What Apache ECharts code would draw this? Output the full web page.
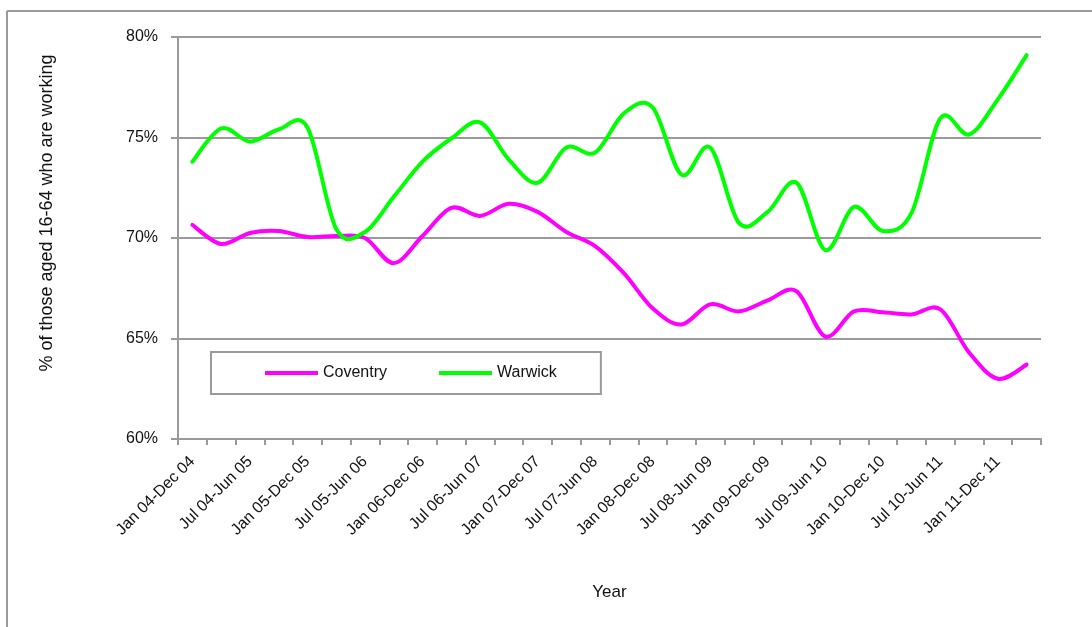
<!DOCTYPE html>
<html>
<head>
<meta charset="utf-8">
<script src="https://cdn.jsdelivr.net/npm/echarts@6/dist/echarts.min.js"></script>
<style>
html,body{margin:0;padding:0;background:#fff;}
#chart{width:1092px;height:627px;}
</style>
</head>
<body>
<div id="chart"></div>
<script>
const categories = [
  'Jan 04-Dec 04','Apr 04-Mar 05','Jul 04-Jun 05','Oct 04-Sep 05',
  'Jan 05-Dec 05','Apr 05-Mar 06','Jul 05-Jun 06','Oct 05-Sep 06',
  'Jan 06-Dec 06','Apr 06-Mar 07','Jul 06-Jun 07','Oct 06-Sep 07',
  'Jan 07-Dec 07','Apr 07-Mar 08','Jul 07-Jun 08','Oct 07-Sep 08',
  'Jan 08-Dec 08','Apr 08-Mar 09','Jul 08-Jun 09','Oct 08-Sep 09',
  'Jan 09-Dec 09','Apr 09-Mar 10','Jul 09-Jun 10','Oct 09-Sep 10',
  'Jan 10-Dec 10','Apr 10-Mar 11','Jul 10-Jun 11','Oct 10-Sep 11',
  'Jan 11-Dec 11','Apr 11-Mar 12'
];
const coventry = [
  70.65, 69.7, 70.25, 70.35, 70.05, 70.1, 70.0, 68.75,
  70.1, 71.5, 71.1, 71.7, 71.3, 70.3, 69.6, 68.25,
  66.5, 65.7, 66.7, 66.35, 66.9, 67.35, 65.1, 66.35,
  66.3, 66.2, 66.45, 64.3, 63.0, 63.7
];
const warwick = [
  73.8, 75.45, 74.8, 75.4, 75.5, 70.45, 70.3, 72.05,
  73.8, 74.95, 75.75, 73.9, 72.75, 74.5, 74.25, 76.2,
  76.5, 73.15, 74.5, 70.75, 71.3, 72.75, 69.4, 71.55,
  70.35, 71.25, 75.95, 75.15, 76.9, 79.1
];
const yTicks = { min: 60, max: 80, interval: 5 };

const font = 'Liberation Sans, Arial, sans-serif';
const gray = '#9a9a9a';

// Smooth curve (Catmull-Rom style) through the points placed by the axes
function smoothRenderer(values, color) {
  return function (params, api) {
    if (params.dataIndex !== 0) return null;
    const pts = values.map((v, i) => api.coord([i, v]));
    const n = pts.length;
    let d = 'M' + pts[0][0] + ' ' + pts[0][1];
    for (let i = 0; i < n - 1; i++) {
      const p0 = pts[Math.max(i - 1, 0)];
      const p1 = pts[i];
      const p2 = pts[i + 1];
      const p3 = pts[Math.min(i + 2, n - 1)];
      const c1x = p1[0] + (p2[0] - p0[0]) / 6;
      const c1y = p1[1] + (p2[1] - p0[1]) / 6;
      const c2x = p2[0] - (p3[0] - p1[0]) / 6;
      const c2y = p2[1] - (p3[1] - p1[1]) / 6;
      d += ' C' + c1x + ' ' + c1y + ' ' + c2x + ' ' + c2y + ' ' + p2[0] + ' ' + p2[1];
    }
    return {
      type: 'path',
      shape: { pathData: d },
      style: { stroke: color, lineWidth: 4, fill: null, lineJoin: 'round', lineCap: 'round' },
      silent: true
    };
  };
}

const chart = echarts.init(document.getElementById('chart'));
chart.setOption({
  animation: false,
  backgroundColor: '#fff',
  textStyle: { fontFamily: font },
  grid: { left: 178, right: 51, top: 37, bottom: 188, containLabel: false },
  legend: {
    left: 211, top: 352, width: 392, height: 43,
    orient: 'horizontal',
    borderColor: gray, borderWidth: 2, borderRadius: 0,
    padding: [13, 44, 13, 54],
    itemGap: 52, itemWidth: 53, itemHeight: 4,
    icon: 'rect',
    textStyle: { fontSize: 16, color: '#111', fontFamily: font },
    data: [
      { name: 'Coventry', itemStyle: { color: '#ff00ff' } },
      { name: 'Warwick', itemStyle: { color: '#00ff00' } }
    ]
  },
  xAxis: {
    type: 'category',
    data: categories,
    boundaryGap: true,
    name: 'Year',
    nameLocation: 'middle',
    nameGap: 145,
    nameTextStyle: { fontSize: 17, color: '#111', fontFamily: font },
    axisLine: { lineStyle: { color: gray, width: 2 } },
    axisTick: { show: true, interval: 0, length: 6, lineStyle: { color: gray, width: 2 } },
    axisLabel: { interval: 1, rotate: 45, fontSize: 16, color: '#111', margin: 20, fontFamily: font },
    splitLine: { show: false }
  },
  yAxis: {
    type: 'value',
    min: yTicks.min, max: yTicks.max, interval: yTicks.interval,
    axisLine: { show: true, lineStyle: { color: gray, width: 2 } },
    axisTick: { show: true, length: 7, lineStyle: { color: gray, width: 2 } },
    axisLabel: { formatter: '{value}%', fontSize: 16, color: '#111', margin: 20, fontFamily: font },
    splitLine: { show: true, lineStyle: { color: gray, width: 2 } }
  },
  series: [
    {
      name: 'Coventry', type: 'custom', coordinateSystem: 'cartesian2d', clip: false,
      data: coventry.map((v, i) => [i, v]), encode: { x: 0, y: 1 },
      itemStyle: { color: '#ff00ff' },
      renderItem: smoothRenderer(coventry, '#ff00ff')
    },
    {
      name: 'Warwick', type: 'custom', coordinateSystem: 'cartesian2d', clip: false,
      data: warwick.map((v, i) => [i, v]), encode: { x: 0, y: 1 },
      itemStyle: { color: '#00ff00' },
      renderItem: smoothRenderer(warwick, '#00ff00')
    }
  ],
  graphic: [
    { type: 'line', shape: { x1: 7, y1: 11, x2: 1092, y2: 11 }, style: { stroke: gray, lineWidth: 2 }, silent: true },
    { type: 'line', shape: { x1: 7, y1: 11, x2: 7, y2: 627 }, style: { stroke: gray, lineWidth: 2 }, silent: true },
    {
      type: 'text', x: 47, y: 213, rotation: Math.PI / 2,
      style: { text: '% of those aged 16-64 who are working', fontSize: 18, fill: '#111', fontFamily: font, align: 'center', verticalAlign: 'middle' },
      silent: true
    }
  ]
});
</script>
</body>
</html>
